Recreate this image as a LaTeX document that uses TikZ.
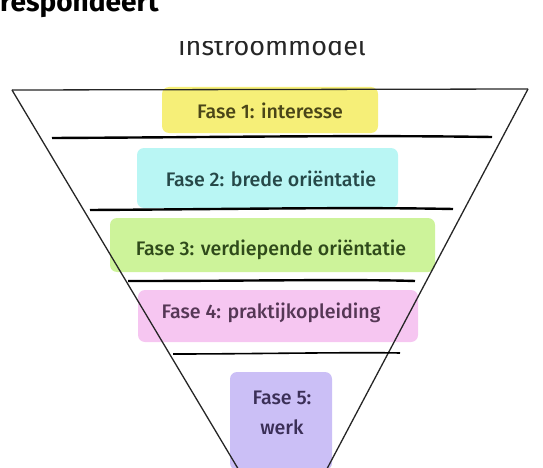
\documentclass[tikz,border=0pt]{standalone}
\usepackage{fontspec}
\setmainfont{Fira Sans}
\newfontfamily\phasefont{Fira Sans Medium}
\definecolor{hlY}{HTML}{F6EF78}
\definecolor{hlC}{HTML}{B9F6F4}
\definecolor{hlG}{HTML}{CDF39A}
\definecolor{hlP}{HTML}{F6C6F1}
\definecolor{hlV}{HTML}{CBBFF6}
\definecolor{txY}{HTML}{4A4518}
\definecolor{txC}{HTML}{264848}
\definecolor{txG}{HTML}{2F4A1A}
\definecolor{txP}{HTML}{553755}
\definecolor{txV}{HTML}{3B2F57}
\tikzset{
  hl/.style={draw=none, rounded corners=7pt},
  phase/.style={font=\phasefont\fontsize{19.6}{22}\selectfont, inner sep=0pt, anchor=center},
  divider/.style={line width=2.4pt, black},
  funnel/.style={line width=1.3pt, black!85},
}
\begin{document}
\begin{tikzpicture}[x=1pt,y=-1pt]
\useasboundingbox (0,0) rectangle (543,468);
% heading (cut at top)
\node[anchor=base west, inner sep=0pt, font=\fontsize{28}{30}\bfseries\selectfont] (head) at (0,12) {respondeert};
% title, clipped at top
\begin{scope}
\clip (0,42) rectangle (543,70);
\node[anchor=base, inner sep=0pt, font=\fontsize{27}{30}\selectfont, text=black!85] (title) at (272,56) {instroommodel};
\end{scope}
% highlights
\fill[hlY, hl] (162,87) rectangle (378,133);
\fill[hlC, hl] (137,148) rectangle (398,208);
\fill[hlG, hl] (110,218) rectangle (435,272);
\fill[hlP, hl] (138,290) rectangle (418,342);
\fill[hlV, hl] (230,372) rectangle (332,470);
% funnel
\coordinate (lt) at (12,90);
\coordinate (rt) at (528,89);
\coordinate (lb) at (246,482);
\coordinate (rb) at (320,482);
\draw[funnel] (lt) -- (rt);
\draw[funnel] (lt) -- (lb);
\draw[funnel] (rt) -- (rb);
% dividers
\coordinate (d1a) at (52,138); \coordinate (d1b) at (492,137);
\coordinate (d2a) at (90,210); \coordinate (d2b) at (453,209);
\coordinate (d3a) at (128,281); \coordinate (d3b) at (415,281);
\coordinate (d4a) at (173,354); \coordinate (d4b) at (400,353);
\draw[divider] (d1a) .. controls (250,137) and (350,135) .. (d1b);
\draw[divider] (d2a) .. controls (250,209) and (350,207) .. (d2b);
\draw[divider] (d3a) .. controls (250,281) and (350,279) .. (d3b);
\draw[divider, line width=1.6pt] (d4a) .. controls (250,354) and (350,352) .. (d4b);
% labels
\node[phase, text=txY] (f1) at (270,111) {Fase 1: interesse};
\node[phase, text=txC] (f2) at (271,179) {Fase 2: brede oriëntatie};
\node[phase, text=txG] (f3) at (271,250) {Fase 3: verdiepende oriëntatie};
\node[phase, text=txP] (f4) at (271,313) {Fase 4: praktijkopleiding};
\node[phase, text=txV] (f5a) at (282,398) {Fase 5:};
\node[phase, text=txV] (f5b) at (282,427) {werk};
\end{tikzpicture}
\end{document}
